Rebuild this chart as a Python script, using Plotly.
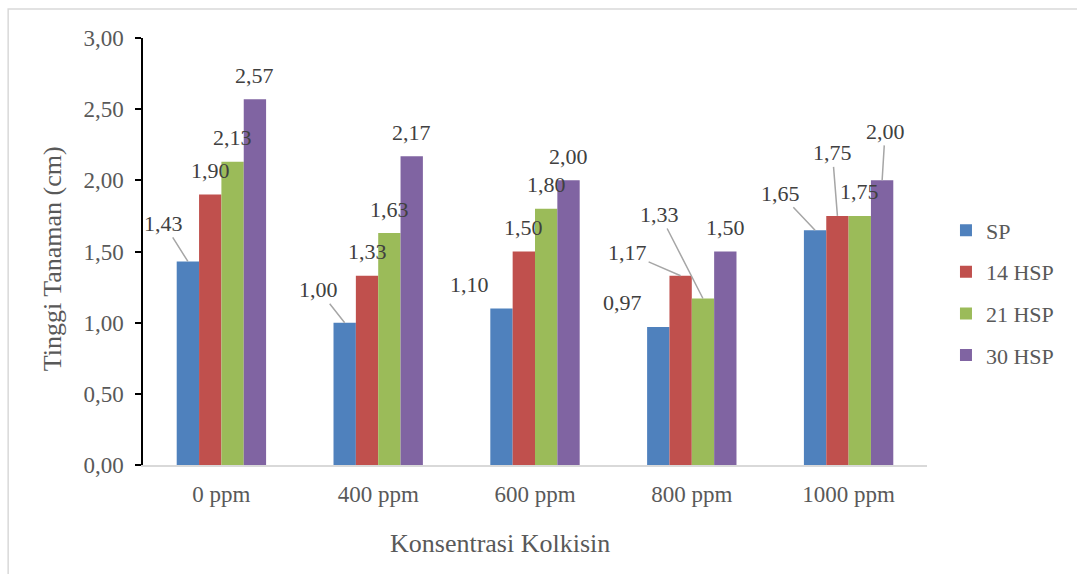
import plotly.graph_objects as go

# Plant height (cm) at each colchicine concentration, per observation time
categories = ["0 ppm", "400 ppm", "600 ppm", "800 ppm", "1000 ppm"]
series_names = ["SP", "14 HSP", "21 HSP", "30 HSP"]
sp = [1.43, 1.00, 1.10, 0.97, 1.65]
hsp14 = [1.90, 1.33, 1.50, 1.33, 1.75]
hsp21 = [2.13, 1.63, 1.80, 1.17, 1.75]
hsp30 = [2.57, 2.17, 2.00, 1.50, 2.00]
y_ticks = [0.0, 0.5, 1.0, 1.5, 2.0, 2.5, 3.0]

series = [sp, hsp14, hsp21, hsp30]
colors = ["#4f81bd", "#c0504d", "#9bbb59", "#8064a2"]

FONT = "Liberation Serif"
BARGAP = 0.43
bar_w = (1 - BARGAP) / len(series)

# Data-label placement: pixel offset of the label from the top of the bar its
# leader line points at, whether a leader line is drawn, and that bar's series.
DEFAULT_LABEL = (0, -24, False, None)
label_style = {
    (0, 0): (-24, -38, True, None),
    (1, 0): (-26, -33, True, None),
    (2, 0): (-32, -24, False, None),
    (3, 0): (-36, -24, False, None),
    (3, 1): (-43, -84, True, 2),
    (3, 2): (-53, -23, True, 1),
    (4, 0): (-35, -37, True, None),
    (4, 1): (-5, -63, True, None),
    (4, 3): (3, -49, True, None),
}


def fmt(v):
    return f"{v:.2f}".replace(".", ",")


fig = go.Figure()
for name, vals, col in zip(series_names, series, colors):
    fig.add_trace(go.Bar(
        x=list(range(len(categories))), y=vals, name=name, legendgroup=name,
        marker=dict(color=col, line=dict(width=0)),
    ))

annotations = []
for i in range(len(categories)):
    for s, vals in enumerate(series):
        dx, dy, leader, target = label_style.get((i, s), DEFAULT_LABEL)
        t = s if target is None else target
        annotations.append(dict(
            x=i + (t - (len(series) - 1) / 2) * bar_w, y=series[t][i],
            xref="x", yref="y", text=fmt(vals[i]),
            showarrow=True, ax=dx, ay=dy, axref="pixel", ayref="pixel",
            arrowhead=0, arrowwidth=1.5, standoff=0,
            arrowcolor="#a6a6a6" if leader else "rgba(0,0,0,0)",
            font=dict(family=FONT, size=22, color="#404040"),
        ))

# axis titles
annotations.append(dict(
    text="Konsentrasi Kolkisin", xref="paper", yref="paper",
    x=0.455, y=-0.185, showarrow=False, xanchor="center", yanchor="middle",
    font=dict(family=FONT, size=26, color="#595959"),
))
annotations.append(dict(
    text="Tinggi Tanaman (cm)", xref="paper", yref="paper",
    x=-0.116, y=0.482, showarrow=False, xanchor="center", yanchor="middle",
    textangle=-90, font=dict(family=FONT, size=26, color="#595959"),
))

fig.update_layout(
    width=1077, height=574,
    margin=dict(l=143, r=150, t=38, b=109),
    paper_bgcolor="white", plot_bgcolor="white",
    separators=",.",
    barmode="group", bargap=BARGAP, bargroupgap=0,
    font=dict(family=FONT, color="#595959"),
    showlegend=True,
    legend=dict(
        x=1.0242, y=0.403, xanchor="left", yanchor="middle",
        font=dict(family=FONT, size=22, color="#595959"),
        traceorder="grouped", tracegroupgap=10,
        bgcolor="rgba(0,0,0,0)",
    ),
    xaxis=dict(
        range=[-0.5, len(categories) - 0.5],
        tickmode="array", tickvals=list(range(len(categories))), ticktext=categories,
        showline=True, linecolor="#d9d9d9", linewidth=1.5,
        showgrid=False, zeroline=False, ticks="",
        ticklabelstandoff=8,
        tickfont=dict(family=FONT, size=23, color="#595959"),
    ),
    yaxis=dict(
        range=[0, 3], tickmode="array", tickvals=y_ticks, tickformat=".2f",
        showline=True, linecolor="black", linewidth=1.5,
        ticks="outside", ticklen=6, tickwidth=1.5, tickcolor="black",
        showgrid=False, zeroline=False, ticklabelstandoff=7,
        tickfont=dict(family=FONT, size=23, color="#595959"),
    ),
    annotations=annotations,
    shapes=[dict(
        type="rect", xref="paper", yref="paper",
        x0=-0.172, x1=1.3, y0=-0.4, y1=1.068,
        line=dict(color="#d9d9d9", width=1.5), fillcolor="rgba(0,0,0,0)",
        layer="below",
    )],
)

fig.write_html("out.html")
